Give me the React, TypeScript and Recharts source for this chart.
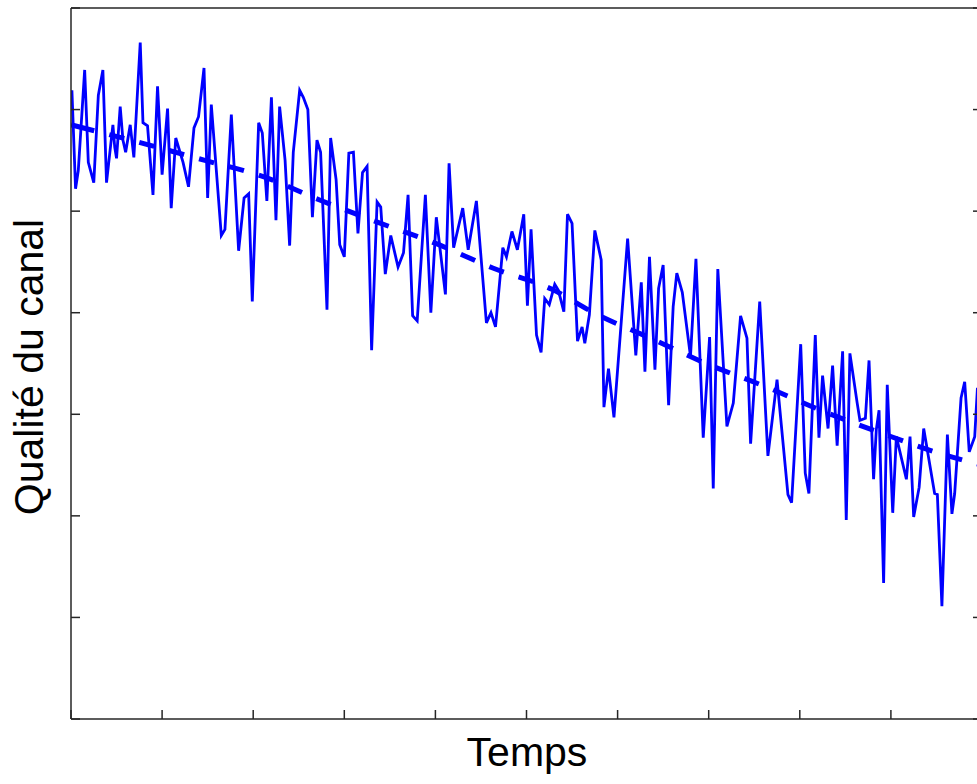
import { LineChart, Line, XAxis, YAxis, Label } from 'recharts';

const timeSteps = [
  0.1, 0.5, 0.8, 1.5, 1.9, 2.5, 3.0, 3.5, 3.9, 4.6, 4.8, 5.0, 5.4, 5.7, 6.0, 6.5, 6.9, 7.6, 7.9, 8.4, 9.0, 9.5,
  10.0, 10.6, 11.0, 11.5, 12.3, 12.9, 13.5, 14.0, 14.6, 15.0, 15.4, 16.5, 16.9, 17.6, 18.4, 19.0, 19.5,
  19.9, 20.6, 21.0, 21.5, 22.0, 22.5, 22.9, 23.5, 24.0, 24.4, 25.1, 25.5, 26.0, 26.5, 27.0, 27.4, 28.1, 28.5, 29.1,
  29.5, 30.0, 30.5, 31.0, 31.5, 32.0, 32.5, 33.0, 33.6, 34.0, 34.5, 35.1, 35.9, 36.5, 37.0, 37.5, 38.0, 38.9,
  39.5, 40.1, 41.1, 41.5, 42.0, 43.0, 43.6, 44.5, 45.6, 46.1, 46.6, 47.4, 47.8, 48.4,
  49.0, 49.7, 50.1, 50.5, 51.1, 51.6, 52.0, 52.5, 53.1, 53.5, 54.1, 54.5, 55.0, 55.6, 56.1, 56.4, 56.9, 57.5, 58.2, 58.5, 59.0,
  59.6, 61.1, 62.0, 62.6, 63.0, 63.5, 64.1, 64.5, 65.0, 65.6, 66.1, 66.5, 67.1, 68.0, 68.6,
  69.4, 70.1, 70.5, 71.0, 72.0, 72.7, 73.5, 74.2, 74.6, 75.6, 76.5, 77.5, 78.2, 78.7, 79.1,
  80.1, 80.6, 81.0, 81.7, 82.1, 82.5, 83.1, 83.6, 84.1, 84.7, 85.1, 85.5, 86.3, 86.6, 87.2, 87.6, 88.1, 88.4, 88.7,
  89.2, 89.6, 90.2, 90.6, 91.7, 92.1, 92.5, 93.1, 93.6, 94.8, 95.1, 95.6, 96.2, 96.7, 97.0, 97.7, 98.1, 98.6, 99.2, 99.5,
];

const quality = [
  6.19, 5.22, 5.4, 6.39, 5.48, 5.28, 6.14, 6.39, 5.28, 5.85, 5.63, 5.52, 6.03, 5.7, 5.58, 5.85, 5.53, 6.66, 5.87, 5.84, 5.16, 6.23,
  5.36, 6.01, 5.03, 5.72, 5.48, 5.24, 5.82, 5.93, 6.41, 5.13, 6.05, 4.76, 4.82, 5.95, 4.61, 5.13, 5.17,
  4.11, 5.87, 5.77, 5.1, 6.12, 4.91, 6.03, 5.5, 4.66, 5.58, 6.19, 6.12, 6.0, 4.94, 5.7, 5.58, 4.03, 5.72, 5.31,
  4.67, 4.55, 5.57, 5.58, 4.78, 5.38, 5.44, 3.63, 5.09, 5.04, 4.38, 4.76, 4.45, 4.59, 5.16, 3.97, 3.92, 5.16,
  4.0, 4.94, 4.18, 5.47, 4.64, 5.03, 4.62, 5.1, 3.9, 4.0, 3.86, 4.64, 4.55, 4.8,
  4.62, 4.97, 4.07, 4.82, 3.78, 3.61, 4.14, 4.08, 4.28, 4.22, 4.01, 4.97, 4.88, 3.72, 3.86, 3.7, 3.98, 4.81, 4.52, 3.07, 3.45,
  2.97, 4.73, 3.58, 4.3, 3.42, 4.55, 3.44, 4.24, 4.47, 3.09, 4.06, 4.39, 4.2, 3.57, 4.53,
  2.77, 3.76, 2.27, 4.43, 2.88, 3.11, 3.97, 3.75, 2.71, 4.11, 2.59, 3.34, 2.68, 2.21, 2.13,
  3.69, 2.42, 2.22, 3.78, 2.77, 3.38, 2.86, 3.48, 2.69, 3.62, 1.96, 3.6, 3.11, 2.94, 2.96, 3.53, 2.36, 2.85, 3.04,
  1.34, 3.29, 2.03, 2.78, 2.36, 2.78, 1.99, 2.28, 2.86, 2.22, 2.21, 1.11, 2.8, 2.02, 2.22, 3.16, 3.32, 2.63, 2.78, 3.26,
];

// smoothed trend (dashed)
const trendTime = [0, 8.2, 14.7, 21.1, 27.3, 33.7, 40.1, 46.3, 52.8, 57.6, 64.1, 69.7, 76.3, 82.3, 89.1, 95.2, 99.5];
const trendQuality = [5.85, 5.66, 5.5, 5.34, 5.11, 4.89, 4.68, 4.44, 4.23, 3.99, 3.73, 3.5, 3.27, 3.04, 2.81, 2.62, 2.51];

const xTicks = [0, 10, 20, 30, 40, 50, 60, 70, 80, 90, 100];
const yTicks = [0, 1, 2, 3, 4, 5, 6, 7];

const measured = timeSteps.map((t, i) => ({ t, q: quality[i] }));
const trend = trendTime.map((t, i) => ({ t, q: trendQuality[i] }));

const BLUE = '#0000ff';
const AXIS = '#262626';
const FONT = '"Liberation Sans", Arial, sans-serif';
const dashes = '24 15.5 ' + '15.5 15.5 '.repeat(40);

const axisLine = { stroke: AXIS, strokeWidth: 1.5 };
// tick marks only, no tick labels
const noLabel = () => <g />;

export default function App() {
  return (
    <div style={{ position: 'absolute', left: 0, top: 0, width: 977, height: 784, overflow: 'hidden', background: '#fff' }}>
      <LineChart width={990} height={784} margin={{ top: 8, right: 8, bottom: 65, left: 71 }}>
        <XAxis
          xAxisId="bottom"
          dataKey="t"
          type="number"
          domain={[0, 100]}
          allowDataOverflow
          ticks={xTicks}
          tick={noLabel}
          tickSize={9}
          mirror
          axisLine={axisLine}
          tickLine={axisLine}
        >
          <Label
            content={() => (
              <text x={527} y={766} textAnchor="middle" fontSize={41} fontFamily={FONT} fill="#000">
                Temps
              </text>
            )}
          />
        </XAxis>
        <XAxis
          xAxisId="top"
          orientation="top"
          type="number"
          domain={[0, 100]}
          allowDataOverflow
          ticks={xTicks}
          tick={noLabel}
          tickSize={9}
          mirror
          axisLine={axisLine}
          tickLine={axisLine}
        />
        <YAxis
          yAxisId="left"
          type="number"
          domain={[0, 7]}
          allowDataOverflow
          ticks={yTicks}
          tick={noLabel}
          tickSize={9}
          mirror
          axisLine={axisLine}
          tickLine={axisLine}
        >
          <Label
            content={() => (
              <text
                x={43}
                y={367}
                transform="rotate(-90, 43, 367)"
                textAnchor="middle"
                fontSize={41}
                fontFamily={FONT}
                fill="#000"
              >
                Qualité du canal
              </text>
            )}
          />
        </YAxis>
        <YAxis
          yAxisId="right"
          orientation="right"
          type="number"
          domain={[0, 7]}
          allowDataOverflow
          ticks={yTicks}
          tick={noLabel}
          tickSize={9}
          mirror
          axisLine={axisLine}
          tickLine={axisLine}
        />
        <Line
          xAxisId="bottom"
          yAxisId="left"
          data={measured}
          dataKey="q"
          type="linear"
          stroke={BLUE}
          strokeWidth={2.8}
          dot={false}
          isAnimationActive={false}
        />
        <Line
          xAxisId="bottom"
          yAxisId="left"
          data={trend}
          dataKey="q"
          type="monotone"
          stroke={BLUE}
          strokeWidth={5}
          strokeDasharray={dashes}
          dot={false}
          isAnimationActive={false}
        />
      </LineChart>
    </div>
  );
}
